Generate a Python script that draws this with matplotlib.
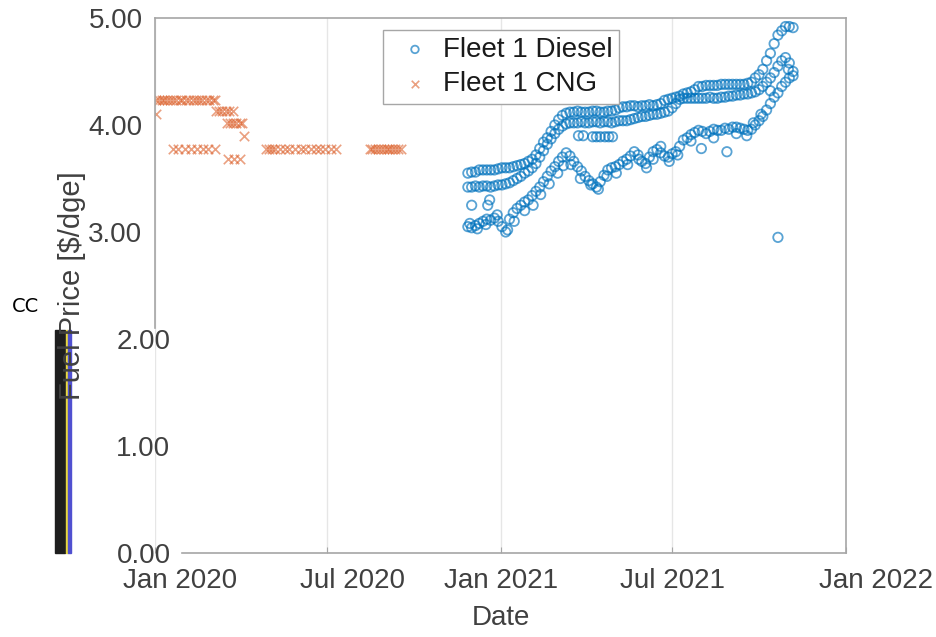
import numpy as np
import pandas as pd
import matplotlib
matplotlib.use("Agg")
import matplotlib.pyplot as plt
import matplotlib.dates as mdates
from matplotlib.patches import Rectangle
from matplotlib.transforms import ScaledTranslation

plt.rcParams["font.family"] = ["Liberation Sans", "DejaVu Sans"]

# -------------------------------
# CNG prices ($/dge)
# -------------------------------
cng_dates = [
    "2020-01-02", "2020-01-05", "2020-01-08", "2020-01-11", "2020-01-14",
    "2020-01-17", "2020-01-20", "2020-01-23", "2020-01-27", "2020-01-30",
    "2020-02-03", "2020-02-06", "2020-02-10", "2020-02-13", "2020-02-17",
    "2020-02-20", "2020-02-24", "2020-02-27", "2020-03-02", "2020-03-05",
    "2020-01-02",
    "2020-03-06", "2020-03-09", "2020-03-12", "2020-03-16", "2020-03-19", "2020-03-23",
    "2020-03-17", "2020-03-20", "2020-03-24", "2020-03-27", "2020-03-31", "2020-04-02",
    "2020-04-04",
    "2020-03-18", "2020-03-25", "2020-03-31",
    "2020-01-20", "2020-01-25", "2020-02-02", "2020-02-08", "2020-02-14",
    "2020-02-21", "2020-02-26", "2020-03-05",
    "2020-04-27", "2020-05-01", "2020-05-04", "2020-05-07", "2020-05-12",
    "2020-05-17", "2020-05-22", "2020-05-28", "2020-06-03", "2020-06-08",
    "2020-06-14", "2020-06-19", "2020-06-24", "2020-06-29", "2020-07-05", "2020-07-10",
    "2020-08-15", "2020-08-18", "2020-08-21", "2020-08-24", "2020-08-27", "2020-08-30",
    "2020-09-02", "2020-09-05", "2020-09-08", "2020-09-11", "2020-09-14", "2020-09-17",
]
cng_price = [
    4.23, 4.23, 4.23, 4.23, 4.23, 4.23, 4.23, 4.23, 4.23, 4.23,
    4.23, 4.23, 4.23, 4.23, 4.23, 4.23, 4.23, 4.23, 4.23, 4.23,
    4.10,
    4.13, 4.13, 4.13, 4.13, 4.13, 4.13,
    4.02, 4.02, 4.02, 4.02, 4.02, 4.02,
    3.90,
    3.68, 3.68, 3.68,
    3.78, 3.78, 3.78, 3.78, 3.78, 3.78, 3.78, 3.78,
    3.78, 3.78, 3.78, 3.78, 3.78, 3.78, 3.78, 3.78, 3.78, 3.78,
    3.78, 3.78, 3.78, 3.78, 3.78, 3.78,
    3.78, 3.78, 3.78, 3.78, 3.78, 3.78,
    3.78, 3.78, 3.78, 3.78, 3.78, 3.78,
]

# -------------------------------
# Diesel prices ($/dge), sampled every 4 days
# -------------------------------
diesel_dates = pd.date_range("2020-11-27", periods=87, freq="4D")

diesel_high = [
    3.55, 3.56, 3.56, 3.58, 3.58, 3.58, 3.58, 3.58, 3.59, 3.60,
    3.60, 3.60, 3.61, 3.62, 3.63, 3.64, 3.66, 3.68, 3.72, 3.78,
    3.84, 3.88, 3.94, 4.00, 4.05, 4.09, 4.11, 4.12, 4.12, 4.13,
    4.12, 4.12, 4.12, 4.13, 4.13, 4.12, 4.12, 4.13, 4.13, 4.14,
    4.16, 4.17, 4.17, 4.18, 4.18, 4.17, 4.18, 4.18, 4.19, 4.18,
    4.19, 4.20, 4.23, 4.24, 4.25, 4.26, 4.27, 4.29, 4.30, 4.31,
    4.33, 4.36, 4.36, 4.37, 4.37, 4.37, 4.37, 4.38, 4.38, 4.38,
    4.38, 4.38, 4.38, 4.38, 4.39, 4.40, 4.44, 4.47, 4.52, 4.60,
    4.67, 4.76, 4.84, 4.88, 4.92, 4.92, 4.91,
]
diesel_mid = [
    3.42, 3.42, 3.43, 3.42, 3.43, 3.43, 3.42, 3.43, 3.44, 3.44,
    3.45, 3.46, 3.48, 3.50, 3.52, 3.55, 3.57, 3.60, 3.64, 3.70,
    3.76, 3.82, 3.87, 3.92, 3.96, 3.99, 4.01, 4.02, 4.02, 4.02,
    4.03, 4.02, 4.02, 4.03, 4.03, 4.02, 4.03, 4.03, 4.02, 4.03,
    4.04, 4.04, 4.04, 4.05, 4.06, 4.07, 4.08, 4.08, 4.09, 4.10,
    4.10, 4.11, 4.12, 4.13, 4.16, 4.20, 4.24, 4.25, 4.25, 4.25,
    4.25, 4.25, 4.25, 4.25, 4.26, 4.25, 4.25, 4.26, 4.26, 4.27,
    4.27, 4.28, 4.28, 4.29, 4.29, 4.30, 4.31, 4.33, 4.36, 4.40,
    4.44, 4.49, 4.55, 4.60, 4.63, 4.58, 4.50,
]
diesel_low = [
    3.05, 3.04, 3.06, 3.08, 3.10, 3.12, 3.11, 3.13, 3.10, 3.05,
    3.00, 3.12, 3.18, 3.22, 3.25, 3.28, 3.30, 3.34, 3.38, 3.42,
    3.47, 3.52, 3.57, 3.61, 3.66, 3.70, 3.74, 3.71, 3.66, 3.61,
    3.57, 3.52, 3.48, 3.45, 3.42, 3.47, 3.53, 3.58, 3.60, 3.61,
    3.63, 3.66, 3.68, 3.71, 3.75, 3.72, 3.66, 3.64, 3.70, 3.75,
    3.77, 3.74, 3.71, 3.70, 3.73, 3.75, 3.80, 3.86, 3.88, 3.91,
    3.93, 3.95, 3.94, 3.92, 3.94, 3.96, 3.95, 3.95, 3.97, 3.96,
    3.98, 3.98, 3.97, 3.96, 3.95, 3.96, 4.00, 4.04, 4.08, 4.14,
    4.20, 4.26, 4.30, 4.36, 4.40, 4.44, 4.46,
]

# scattered diesel fills that don't sit on the main bands
extra_dates = [
    "2020-11-29", "2020-12-01", "2020-12-07", "2020-12-16", "2020-12-18",
    "2020-12-20", "2020-12-28", "2021-01-08", "2021-01-15", "2021-01-26",
    "2021-02-04", "2021-02-12", "2021-02-21", "2021-03-02", "2021-03-08",
    "2021-03-16", "2021-03-24", "2021-03-26", "2021-03-29", "2021-04-06",
    "2021-04-08", "2021-04-12", "2021-04-14", "2021-04-16", "2021-04-21",
    "2021-04-23", "2021-04-25", "2021-04-29", "2021-05-03", "2021-05-15",
    "2021-05-27", "2021-06-04", "2021-06-11", "2021-06-19", "2021-06-28",
    "2021-07-07", "2021-07-21", "2021-08-01", "2021-08-14", "2021-08-28",
    "2021-09-07", "2021-09-18", "2021-09-25", "2021-10-03", "2021-10-13",
    "2021-10-21", "2021-11-01",
]
extra_price = [
    3.08, 3.25, 3.03, 3.07, 3.25,
    3.30, 3.16, 3.02, 3.10, 3.20,
    3.25, 3.35, 3.45, 3.55, 3.62,
    3.63, 3.90, 3.50, 3.90, 3.44,
    3.89, 3.89, 3.40, 3.89, 3.89,
    3.52, 3.89, 3.89, 3.55, 3.63,
    3.68, 3.60, 3.68, 3.80, 3.66,
    3.72, 3.85, 3.78, 3.88, 3.75,
    3.92, 3.90, 4.02, 4.10, 4.32,
    2.95, 4.52,
]

# ===============================
# PLOT
# ===============================
blue = "#0072BD"
orange = "#D95319"
txt = "#404040"
edge = "#A6A6A6"
fs = 20

fig = plt.figure(figsize=(9.36, 6.37), dpi=100)
ax = fig.add_axes([155 / 936, 84 / 637, 691 / 936, 535 / 637])

d_all = list(diesel_dates) * 3 + list(pd.to_datetime(extra_dates))
p_all = diesel_high + diesel_mid + diesel_low + extra_price
ax.scatter(d_all, p_all, s=46, marker="o", facecolors="none",
           edgecolors=blue, linewidths=1.3, alpha=0.65, label="Fleet 1 Diesel")
ax.scatter(pd.to_datetime(cng_dates), cng_price, s=46, marker="x",
           color=orange, linewidths=1.2, alpha=0.55, label="Fleet 1 CNG")

ax.set_xlim(pd.Timestamp("2020-01-01"), pd.Timestamp("2022-01-01"))
ax.set_ylim(0, 5)
ax.set_yticks([0, 1, 2, 3, 4, 5])
ax.yaxis.set_major_formatter(matplotlib.ticker.FormatStrFormatter("%.2f"))
ax.xaxis.set_major_locator(mdates.MonthLocator(bymonth=[1, 7]))
ax.xaxis.set_major_formatter(mdates.DateFormatter("%b %Y"))

ax.grid(axis="x", color="#E6E6E6", linewidth=1)
ax.set_axisbelow(True)
for s in ax.spines.values():
    s.set_color(edge)
    s.set_linewidth(1.2)
ax.spines["left"].set_bounds(2.1, 5)
ax.spines["bottom"].set_bounds(mdates.date2num(pd.Timestamp("2020-01-30")),
                               mdates.date2num(pd.Timestamp("2022-01-01")))
ax.tick_params(direction="in", length=4, color=edge, labelcolor=txt,
               labelsize=fs, pad=11)
ax.tick_params(axis="y", length=0, pad=9)

# lower half of the y labels and some date labels sit further right
fig.canvas.draw()
for lab in ax.get_yticklabels():
    if lab.get_text() in ("0.00", "1.00", "2.00"):
        lab.set_transform(lab.get_transform()
                          + ScaledTranslation(0.28, 0, fig.dpi_scale_trans))
shift = {"Jan 2020": 0.25, "Jul 2020": 0.25, "Jan 2022": 0.30}
for lab in ax.get_xticklabels():
    if lab.get_text() in shift:
        lab.set_transform(lab.get_transform()
                          + ScaledTranslation(shift[lab.get_text()], 0, fig.dpi_scale_trans))

ax.set_xlabel("Date", fontsize=fs, color=txt, labelpad=8)
ax.set_ylabel("Fuel Price [$/dge]", fontsize=21, color=txt)
ax.yaxis.set_label_coords(-(155 - 86) / 691, 0.5)

leg = ax.legend(loc="upper left", bbox_to_anchor=(0.33, 0.978), fontsize=fs,
                frameon=True, fancybox=False, edgecolor=edge, framealpha=1,
                borderaxespad=0, handletextpad=0.1, borderpad=0.25,
                labelspacing=0.3, markerscale=0.8, handlelength=1.8)
for t in leg.get_texts():
    t.set_color("#1A1A1A")

# stray marks at the left margin, kept underneath the axis label
fig.text(12 / 936, 1 - 306 / 637, "CC", fontsize=14, color="black",
         va="center", ha="left", family=["DejaVu Sans"])
for x0, w, c in [(55, 10, "#1E1E1E"), (66, 2, "#E8D840"), (68, 3, "#5050D0")]:
    fig.patches.append(Rectangle((x0 / 936, 84 / 637), w / 936, 223 / 637,
                                 transform=fig.transFigure, color=c, zorder=-1))

fig.savefig("out.png", dpi=100)
